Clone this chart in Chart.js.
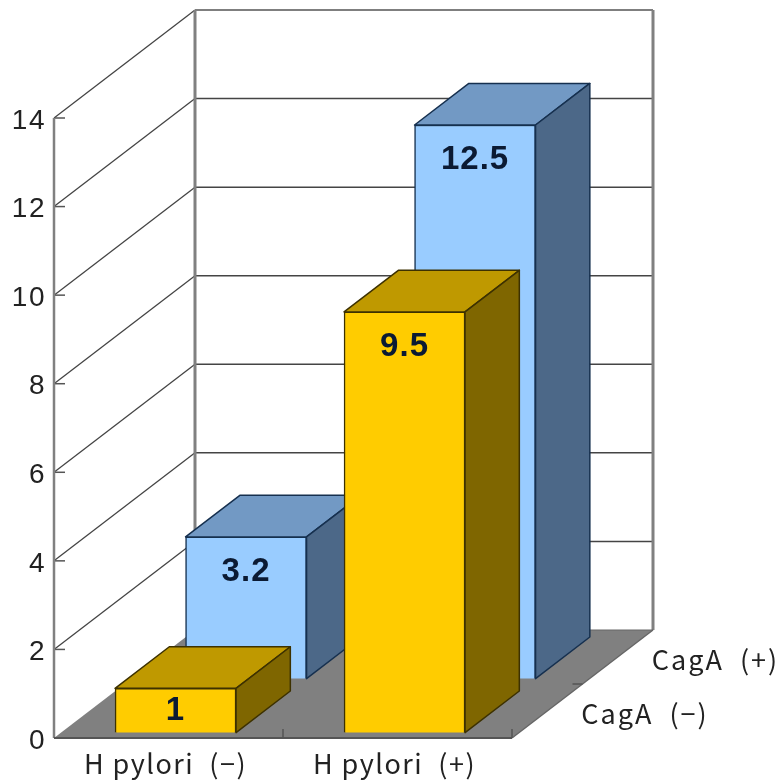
<!DOCTYPE html>
<html>
<head>
<meta charset="utf-8">
<title>H pylori / CagA</title>
<script src="https://cdn.jsdelivr.net/npm/chart.js@4"></script>
<style>
  html, body { margin: 0; padding: 0; background: #fff; }
  canvas { display: block; }
</style>
</head>
<body>
<canvas id="barChart" width="779" height="780"></canvas>
<script>
var categories = ["H pylori  (−)", "H pylori  (+)"];
var seriesNames = ["CagA  (−)", "CagA  (+)"];
var cagaNegative = [1, 9.5];
var cagaPositive = [3.2, 12.5];
var yTicks = [0, 2, 4, 6, 8, 10, 12, 14];

// depth axis of the fake 3D box, in pixels
var DEPTH_X = 141, DEPTH_Y = -108;
var BAR_DEPTH = 0.385;
var LABEL_FONT = '27px "Noto Sans CJK JP"';

function depthPoint(x, y, f) {
    return [x + DEPTH_X * f, y + DEPTH_Y * f];
}

function poly(ctx, pts, fill, stroke, lw) {
    ctx.beginPath();
    ctx.moveTo(pts[0][0], pts[0][1]);
    for (var i = 1; i < pts.length; i++) ctx.lineTo(pts[i][0], pts[i][1]);
    ctx.closePath();
    if (fill) { ctx.fillStyle = fill; ctx.fill(); }
    if (stroke) { ctx.strokeStyle = stroke; ctx.lineWidth = lw; ctx.stroke(); }
}

function line(ctx, x1, y1, x2, y2, color, lw) {
    ctx.beginPath();
    ctx.moveTo(x1, y1);
    ctx.lineTo(x2, y2);
    ctx.strokeStyle = color;
    ctx.lineWidth = lw;
    ctx.stroke();
}

// walls, floor, grid lines and axis ticks
var boxPlugin = {
    id: 'box',
    // axis labels are spaced out a little
    beforeDraw: function (chart) {
        chart.ctx.letterSpacing = '1.5px';
    },
    beforeDatasetsDraw: function (chart) {
        var ctx = chart.ctx, a = chart.chartArea, y = chart.scales.y;
        var bl = [a.left, a.bottom], br = [a.right, a.bottom];
        var tl = [a.left, a.top];
        var bbl = depthPoint(a.left, a.bottom, 1), bbr = depthPoint(a.right, a.bottom, 1);
        var btl = depthPoint(a.left, a.top, 1), btr = depthPoint(a.right, a.top, 1);
        ctx.save();
        poly(ctx, [bl, br, bbr, bbl], '#808080');
        yTicks.forEach(function (v) {
            var py = y.getPixelForValue(v);
            var b = depthPoint(a.left, py, 1);
            if (v > 0) {
                line(ctx, a.left, py, b[0], b[1], '#444', 1.3);
                line(ctx, b[0], b[1], bbr[0], b[1], v === 14 ? '#555' : '#444', 1.5);
            }
            line(ctx, a.left, py, a.left + 11, py, '#555', 1.5);
        });
        line(ctx, tl[0], tl[1], bl[0], bl[1], '#808080', 2.5);
        line(ctx, btl[0], btl[1], bbl[0], bbl[1], '#808080', 3);
        line(ctx, btr[0], btr[1], bbr[0], bbr[1], '#808080', 3);
        line(ctx, bbl[0], bbl[1], bbr[0], bbr[1], '#666', 1);
        line(ctx, bl[0], bl[1], br[0], br[1], '#555', 2);
        line(ctx, br[0], br[1], bbr[0], bbr[1], '#666', 1.5);

        // category and depth ticks
        var mid = (a.left + a.right) / 2;
        line(ctx, mid, a.bottom - 9, mid, a.bottom, '#555', 1.5);
        line(ctx, a.right, a.bottom - 9, a.right, a.bottom, '#555', 1.5);
        var dm = depthPoint(a.right, a.bottom, 0.5);
        line(ctx, dm[0] - 10, dm[1], dm[0], dm[1], '#555', 1.5);

        // series names along the depth axis
        ctx.font = LABEL_FONT;
        ctx.fillStyle = '#222';
        ctx.textAlign = 'left';
        ctx.textBaseline = 'middle';
        ctx.letterSpacing = '2px';
        chart.data.datasets.forEach(function (ds) {
            var p = depthPoint(a.right, a.bottom, ds.depthAt + 0.2);
            ctx.fillText(ds.label, p[0] + 34, p[1] + 3);
        });
        ctx.restore();
    },
    // shift each series back along the depth axis
    beforeDatasetDraw: function (chart, args) {
        var ds = chart.data.datasets[args.index];
        chart.ctx.save();
        chart.ctx.translate(DEPTH_X * ds.depthAt, DEPTH_Y * ds.depthAt);
    },
    // top and side faces plus the value written on the front face
    afterDatasetDraw: function (chart, args) {
        var ctx = chart.ctx;
        var ds = chart.data.datasets[args.index];
        args.meta.data.forEach(function (bar, i) {
            var left = bar.x - bar.width / 2, right = bar.x + bar.width / 2;
            var top = bar.y, base = bar.base;
            var tl = depthPoint(left, top, BAR_DEPTH), tr = depthPoint(right, top, BAR_DEPTH);
            var brb = depthPoint(right, base, BAR_DEPTH);
            ctx.lineJoin = 'round';
            poly(ctx, [[left, top], [right, top], tr, tl], ds.topColor, ds.borderColor, 1.5);
            poly(ctx, [[right, top], tr, brb, [right, base]], ds.sideColor, ds.borderColor, 1.5);

            ctx.font = 'bold 33px "Liberation Sans"';
            ctx.letterSpacing = '1px';
            ctx.fillStyle = '#0b1a33';
            ctx.textAlign = 'center';
            ctx.textBaseline = 'middle';
            var offset = Math.min(35, (base - top) / 2);
            ctx.fillText(String(ds.data[i]), bar.x, top + offset);
        });
        ctx.restore();
    }
};

var ctxB = document.getElementById("barChart").getContext('2d');
var myBarChart = new Chart(ctxB, {
    type: 'bar',
    plugins: [boxPlugin],
    data: {
        labels: categories,
        datasets: [
            {
                label: seriesNames[0],
                data: cagaNegative,
                order: 1,
                depthAt: 0.05,
                backgroundColor: "#ffcc00",
                topColor: "#bf9900",
                sideColor: "#7f6600",
                borderColor: "#3d3100",
                borderWidth: 1.5
            },
            {
                label: seriesNames[1],
                data: cagaPositive,
                order: 2,
                depthAt: 0.55,
                backgroundColor: "#99ccff",
                topColor: "#7299c4",
                sideColor: "#4c6888",
                borderColor: "#16304f",
                borderWidth: 1.5
            }
        ]
    },
    options: {
        responsive: false,
        animation: false,
        layout: { padding: { top: 118, right: 267, left: 0, bottom: 0 } },
        datasets: { bar: { grouped: false, barThickness: 121, clip: false } },
        plugins: { legend: { display: false }, tooltip: { enabled: false } },
        scales: {
            x: {
                grid: { display: false },
                border: { display: false },
                afterFit: function (s) { s.height = 42; },
                ticks: {
                    padding: 2,
                    labelOffset: -3,
                    maxRotation: 0,
                    color: '#222',
                    font: { family: '"Noto Sans CJK JP"', size: 27 }
                }
            },
            y: {
                min: 0,
                max: 14,
                grid: { display: false },
                border: { display: false },
                afterFit: function (s) { s.width = 54; },
                afterBuildTicks: function (s) {
                    s.ticks = yTicks.map(function (v) { return { value: v }; });
                },
                ticks: {
                    padding: 0,
                    labelOffset: 3,
                    color: '#222',
                    font: { family: '"Liberation Sans"', size: 28 }
                }
            }
        }
    }
});
</script>
</body>
</html>
